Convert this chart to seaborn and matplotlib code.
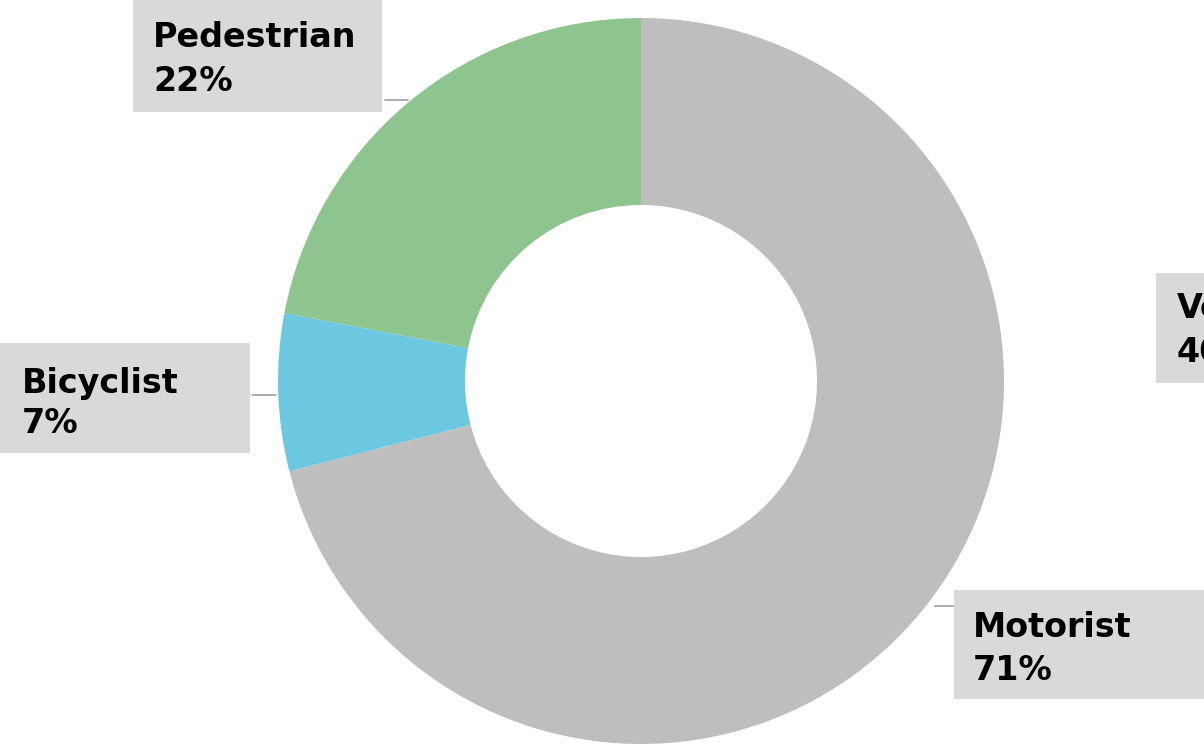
import matplotlib
matplotlib.use("Agg")
import matplotlib.pyplot as plt
import seaborn as sns
from matplotlib.patches import Rectangle
from matplotlib.lines import Line2D

categories = ["Motorist", "Bicyclist", "Pedestrian"]
shares = [71, 7, 22]
colors = ["#bebebe", "#6cc8e1", "#8ec48d"]
pct_labels = ["71%", "7%", "22%"]
extra_label = ["Vehicle", "40%"]

sns.set_theme(style="white")
plt.rcParams["font.family"] = ["DejaVu Sans"]

W, H = 1204, 749
fig = plt.figure(figsize=(W / 100, H / 100), dpi=100)
fig.patch.set_facecolor("white")

cx, cy, R = 641, 381, 363
ax = fig.add_axes([(cx - R) / W, 1 - (cy + R) / H, 2 * R / W, 2 * R / H])
ax.pie(shares, colors=colors, startangle=90, counterclock=False,
       radius=1.0, wedgeprops=dict(width=1 - 176 / 363, edgecolor="none"))
ax.set_xlim(-1, 1)
ax.set_ylim(-1, 1)
ax.set_aspect("equal")
ax.axis("off")


def fx(x):
    return x / W


def fy(y):
    return 1 - y / H


def box(x0, y0, x1, y1):
    fig.patches.append(Rectangle((fx(x0), fy(y1)), fx(x1) - fx(x0), fy(y0) - fy(y1),
                                 transform=fig.transFigure, facecolor="#d9d9d9",
                                 edgecolor="none", zorder=1))


def leader(x0, x1, y):
    fig.lines.append(Line2D([fx(x0), fx(x1)], [fy(y), fy(y)], transform=fig.transFigure,
                            color="#a6a6a6", lw=1.3, zorder=1))


def label(x, b1, b2, l1, l2):
    for b, t in ((b1, l1), (b2, l2)):
        fig.text(fx(x), fy(b), t, fontsize=24, fontweight="bold", color="black",
                 ha="left", va="baseline", zorder=3)


# Pedestrian
box(133, -5, 382, 112)
leader(385, 408, 100)
label(153, 47, 91, categories[2], pct_labels[2])
# Bicyclist
box(-5, 343, 250, 453)
leader(252, 276, 395)
label(22, 393, 433, categories[1], pct_labels[1])
# Motorist
box(954, 590, 1250, 699)
leader(935, 953, 606)
label(973, 637, 680, categories[0], pct_labels[0])
# label cut off at the right edge, as in the reference
box(1156, 273, 1300, 383)
label(1177, 318, 362, extra_label[0], extra_label[1])

fig.savefig("out.png", dpi=100)
